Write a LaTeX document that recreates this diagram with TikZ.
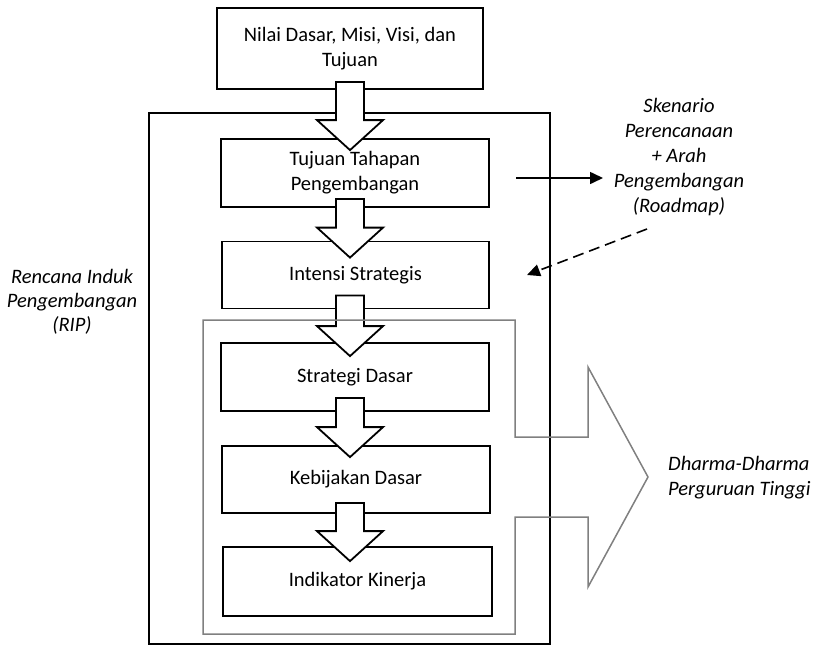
\documentclass[tikz,border=0pt]{standalone}
\usepackage{fontspec}
\setmainfont{Carlito}
\usetikzlibrary{arrows.meta,calc}

\tikzset{
  box/.style={draw, line width=1.8pt, fill=white, rectangle, inner sep=2pt, align=center,
    font=\fontsize{20.5}{25}\selectfont},
  outerbox/.style={draw, line width=1.8pt, rectangle},
  barrow/.style={draw, line width=1.8pt, fill=white, line join=miter},
  label/.style={align=center, inner sep=0pt, font=\fontsize{20.5}{25}\selectfont\itshape},
  dharmaframe/.style={draw=black!50, line width=1.5pt, line join=miter},
  linkarrow/.style={line width=1.6pt, -{Triangle[length=13pt,width=12pt]}},
}

% hollow block arrow from the bottom of box #1 to the top of box #2;
% #3 = how far the shaft reaches into #1, #4 = how far the tip reaches into #2
\newcommand\blockarrow[4]{%
  \draw[barrow] let \p1=(#1.south), \p2=(#2.north) in
    (336pt,\y1+#3) -- (364pt,\y1+#3) -- (364pt,\y2-#4+30pt) -- (383pt,\y2-#4+30pt)
    -- (350pt,\y2-#4) -- (317pt,\y2-#4+30pt) -- (336pt,\y2-#4+30pt) -- cycle;}

\begin{document}
\begin{tikzpicture}[x=1pt,y=-1pt]
\useasboundingbox (0,0) rectangle (817,648);

% outer frame of the master plan
\node[outerbox, minimum width=401pt, minimum height=531pt] (rip) at (349.5,378.5) {};

% stages
\node[box, minimum width=266pt, minimum height=81pt] (nilai) at (350,48.5)
  {Nilai Dasar, Misi, Visi, dan\\Tujuan};
\node[box, minimum width=268pt, minimum height=68pt] (tujuan) at (355,173)
  {Tujuan Tahapan\\Pengembangan};
\node[box, minimum width=267pt, minimum height=67pt] (intensi) at (355.5,275)
  {Intensi Strategis};
\node[box, minimum width=268pt, minimum height=68pt] (strategi) at (355,377)
  {Strategi Dasar};
\node[box, minimum width=268pt, minimum height=67pt] (kebijakan) at (356,479.5)
  {Kebijakan Dasar};
\node[box, minimum width=269pt, minimum height=69pt] (indikator) at (357.5,581.5)
  {Indikator Kinerja};

% flow between the stages
\blockarrow{nilai}{tujuan}{8pt}{12pt}
\blockarrow{tujuan}{intensi}{9pt}{17pt}
\blockarrow{intensi}{strategi}{14pt}{14pt}
\blockarrow{strategi}{kebijakan}{14pt}{12pt}
\blockarrow{kebijakan}{indikator}{11pt}{15pt}

% grey frame that opens into a wide arrow
\draw[dharmaframe] (515,437) -- (588,437) -- (588,367) -- (648,477) -- (588,587)
  -- (588,517) -- (515,517) -- (515,634) -- (203,634) -- (203,320) -- (515,320) -- cycle;

% side labels
\node[label, font=\fontsize{20.5}{24}\selectfont\itshape] (riplabel) at (72,302)
  {Rencana Induk\\Pengembangan\\(RIP)};
\node[label] (skenario) at (679,157)
  {Skenario\\Perencanaan\\+ Arah\\Pengembangan\\(Roadmap)};
\node[label, align=left, anchor=west] (dharma) at (668,477.5)
  {Dharma-Dharma\\Perguruan Tinggi};

% links to the roadmap
\coordinate (outstart) at (516,178);
\coordinate (outend) at (603,178);
\draw[linkarrow] (outstart) -- (outend);
\coordinate (backstart) at (647,229);
\coordinate (backend) at (527,275);
\draw[linkarrow, dash pattern=on 11pt off 6pt] (backstart) -- (backend);
\end{tikzpicture}
\end{document}
